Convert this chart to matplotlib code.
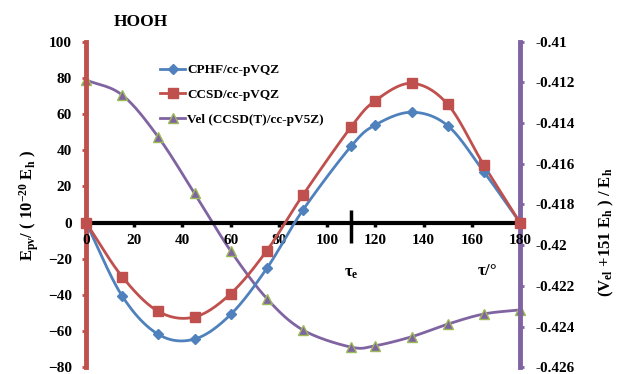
import numpy as np
import matplotlib
matplotlib.use("Agg")
import matplotlib.pyplot as plt
from matplotlib.ticker import FuncFormatter
from matplotlib.lines import Line2D

# ---- data ----
tau = [0, 15, 30, 45, 60, 75, 90, 110, 120, 135, 150, 165, 180]
cphf = [0, -40.6, -61.8, -64.4, -50.8, -25.3, 7.0, 42.3, 54.0, 61.0, 53.6, 28.1, 0]
ccsd = [0, -29.9, -49.1, -52.2, -39.3, -15.5, 15.3, 53.0, 67.4, 77.0, 65.4, 31.8, 0]
vel = [-0.41188, -0.41262, -0.41469, -0.41745, -0.42028, -0.42262, -0.42417,
       -0.42501, -0.42494, -0.42450, -0.42388, -0.42338, -0.42318]
tau_e = 110
x_ticks = [0, 20, 40, 60, 80, 100, 120, 140, 160, 180]
left_ticks = [-80, -60, -40, -20, 0, 20, 40, 60, 80, 100]
right_ticks = [-0.426, -0.424, -0.422, -0.42, -0.418, -0.416, -0.414, -0.412, -0.41]

labels = ["CPHF/cc-pVQZ", "CCSD/cc-pVQZ", "Vel (CCSD(T)/cc-pV5Z)"]

BLUE = "#4F81BD"
RED = "#C0504D"
PURPLE = "#8064A2"
GREEN = "#9BBB59"

SERIF = ["Liberation Serif", "DejaVu Serif"]
plt.rcParams['font.family'] = SERIF
plt.rcParams['font.weight'] = 'bold'
plt.rcParams['mathtext.fontset'] = 'custom'
plt.rcParams['mathtext.rm'] = 'Liberation Serif:bold'
plt.rcParams['mathtext.bf'] = 'Liberation Serif:bold'
plt.rcParams['mathtext.it'] = 'Liberation Serif:bold'


def smooth(x, y, n=24):
    """Catmull-Rom smoothing (like Excel's smoothed line) for drawing."""
    x = np.asarray(x, float)
    y = np.asarray(y, float)
    px = np.concatenate([[2 * x[0] - x[1]], x, [2 * x[-1] - x[-2]]])
    py = np.concatenate([[2 * y[0] - y[1]], y, [2 * y[-1] - y[-2]]])
    xs, ys = [], []
    t = np.linspace(0, 1, n, endpoint=False)
    for i in range(1, len(px) - 2):
        p0, p1, p2, p3 = (np.array([px[j], py[j]]) for j in (i - 1, i, i + 1, i + 2))
        m1 = (p2 - p0) / 2 / 3
        m2 = (p3 - p1) / 2 / 3
        b0, b1, b2, b3 = p1, p1 + m1, p2 - m2, p2
        pts = ((1 - t) ** 3)[:, None] * b0 + (3 * (1 - t) ** 2 * t)[:, None] * b1 \
            + (3 * (1 - t) * t ** 2)[:, None] * b2 + (t ** 3)[:, None] * b3
        xs.extend(pts[:, 0]); ys.extend(pts[:, 1])
    xs.append(x[-1]); ys.append(y[-1])
    return np.array(xs), np.array(ys)


fig = plt.figure(figsize=(6.17, 3.74), dpi=100)
ax = fig.add_axes([86 / 617, 1 - 367.3 / 374, (520 - 86) / 617, (367.3 - 41.7) / 374])
ax2 = ax.twinx()
ax.set_zorder(ax2.get_zorder() + 1)
ax.patch.set_visible(False)

# left axis series
for vals, col, mk, ms in [(cphf, BLUE, 'D', 5.5), (ccsd, RED, 's', 7.5)]:
    sx, sy = smooth(tau, vals)
    ax.plot(sx, sy, color=col, lw=2, zorder=3, clip_on=False)
    ax.plot(tau, vals, ls='none', marker=mk, ms=ms, color=col, mec=col, zorder=4, clip_on=False)

# right axis series
sx, sy = smooth(tau, vel)
ax2.plot(sx, sy, color=PURPLE, lw=2, clip_on=False)
ax2.plot(tau, vel, ls='none', marker='^', ms=7.5, mfc=PURPLE, mec=GREEN, mew=1, clip_on=False)

ax.set_xlim(0, 180)
ax.set_ylim(-80, 100)
ax2.set_ylim(-0.426, -0.41)

# spines
for a in (ax, ax2):
    a.spines['top'].set_visible(False)
ax2.spines['bottom'].set_visible(False)
ax2.spines['left'].set_visible(False)
ax.spines['right'].set_visible(False)
ax.spines['left'].set_color(RED)
ax.spines['left'].set_linewidth(3.5)
ax.spines['left'].set_zorder(1)
ax2.spines['right'].set_color(PURPLE)
ax2.spines['right'].set_linewidth(3.5)
ax.spines['bottom'].set_position(('data', 0))
ax.spines['bottom'].set_color('black')
ax.spines['bottom'].set_linewidth(3)
ax.spines['bottom'].set_zorder(2)

ax.set_xticks(x_ticks)
ax.set_yticks(left_ticks)
ax2.set_yticks(right_ticks)
ax2.yaxis.set_major_formatter(FuncFormatter(lambda v, p: f"{round(v, 4):g}"))

FS = 11
ax.tick_params(axis='x', direction='out', length=3, width=2.5, color='black', pad=5,
               labelsize=FS)
ax.tick_params(axis='y', direction='out', length=3, width=2, color=RED, pad=7, labelsize=FS)
ax2.tick_params(axis='y', direction='out', length=3, width=2, color=PURPLE, pad=8, labelsize=FS)
for lab in ax.get_xticklabels() + ax.get_yticklabels() + ax2.get_yticklabels():
    lab.set_fontweight('bold')

# tau_e marker
ax.vlines(tau_e, -11.3, 7, color='black', lw=2.5, zorder=3)
ax.text(tau_e, -28, r"$\tau_e$", ha='center', va='center', fontsize=12)
ax.text(166.5, -27, r"$\tau$/°", ha='center', va='center', fontsize=12, fontweight='bold')

# labels
fig.text(141 / 617, 1 - 22 / 374, "HOOH", ha='center', va='center', fontsize=12.5, fontweight='bold')
fig.text(29 / 617, 1 - 205 / 374, r"E$_{pv}$/ ( 10$^{-20}$ E$_{h}$ )",
         rotation=90, ha='center', va='center', fontsize=12, fontweight='bold')
fig.text(606 / 617, 1 - 232 / 374, r"(V$_{el}$ +151 E$_{h}$ ) / E$_{h}$",
         rotation=90, ha='center', va='center', fontsize=12, fontweight='bold')

# legend
handles = [Line2D([], [], color=BLUE, lw=2, marker='D', ms=5.5),
           Line2D([], [], color=RED, lw=2, marker='s', ms=7.5),
           Line2D([], [], color=PURPLE, lw=2, marker='^', ms=7.5, mfc=PURPLE, mec=GREEN)]
leg = ax.legend(handles, labels, loc='upper left', bbox_to_anchor=(160 / 617, 1 - 64 / 374),
                bbox_transform=fig.transFigure, frameon=False,
                prop={'family': SERIF, 'weight': 'bold', 'size': 9.5},
                handlelength=1.9, handletextpad=0.15, labelspacing=0.95, borderaxespad=0,
                borderpad=0)

fig.savefig("out.png", dpi=100)
